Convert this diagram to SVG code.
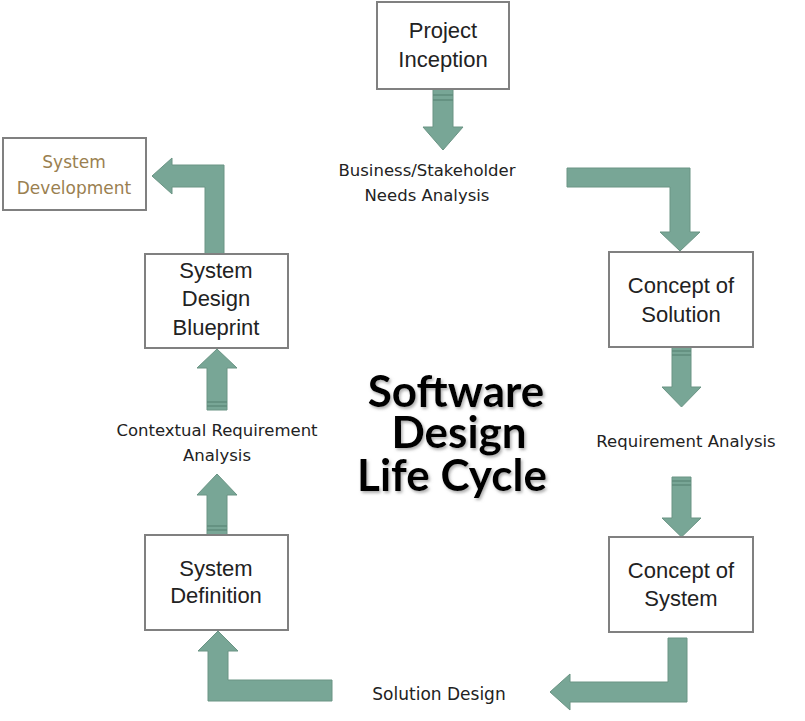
<svg xmlns="http://www.w3.org/2000/svg" width="805" height="721" viewBox="0 0 805 721">
<defs>
<style>
.box{fill:#fff;stroke:#808080;stroke-width:2}
.nt{font-family:"Liberation Sans",Arial,sans-serif;font-size:22px;fill:#222;text-anchor:middle}
.lb{font-family:"DejaVu Sans",sans-serif;font-size:16.5px;fill:#222;text-anchor:middle}
.arr{fill:#78a696;stroke:#6a9484;stroke-width:1}
.stripe{stroke:#5f8b7b;stroke-width:1.5}
.title{font-family:Lato,"Open Sans",sans-serif;font-weight:bold;font-size:44px;fill:#000;text-anchor:middle}
</style>
<filter id="sh" x="-10%" y="-10%" width="120%" height="130%">
<feDropShadow dx="1.5" dy="2" stdDeviation="1.5" flood-color="#777" flood-opacity="0.6"/>
</filter>
</defs>
<rect width="805" height="721" fill="#fff"/>

<g id="connectors">
<polygon class="arr" points="433,89 453,89 453,127 463,127 443,150 423,127 433,127"/>
<line class="stripe" x1="433" y1="95" x2="453" y2="95"/><line class="stripe" x1="433" y1="100" x2="453" y2="100"/>
<polygon class="arr" points="567,168 690,168 690,232 700,232 680,251 660,232 670,232 670,187 567,187"/>
<polygon class="arr" points="672,347 691,347 691,387 701,387 681.5,407 662,387 672,387"/>
<line class="stripe" x1="672" y1="351" x2="691" y2="351"/><line class="stripe" x1="672" y1="355" x2="691" y2="355"/>
<polygon class="arr" points="672,477 691,477 691,518 701,518 681.5,537 662,518 672,518"/>
<line class="stripe" x1="672" y1="481" x2="691" y2="481"/><line class="stripe" x1="672" y1="485" x2="691" y2="485"/>
<polygon class="arr" points="668,638 687,638 687,702 570,702 570,710 550,692 570,674 570,682 668,682"/>
<polygon class="arr" points="332,680 332,701 208,701 208,651 198,651 218,631 238,651 228,651 228,680"/>
<polygon class="arr" points="207,535 227,535 227,495 237,495 217,474 197,495 207,495"/>
<line class="stripe" x1="207" y1="526" x2="227" y2="526"/><line class="stripe" x1="207" y1="530" x2="227" y2="530"/>
<polygon class="arr" points="207,410 227,410 227,368 237,368 217,349 197,368 207,368"/>
<line class="stripe" x1="207" y1="402" x2="227" y2="402"/><line class="stripe" x1="207" y1="406" x2="227" y2="406"/>
<polygon class="arr" points="224,254 205,254 205,187 172,187 172,194 152,176 172,158 172,165 224,165"/>
</g>

<g id="project-inception">
<rect class="box" x="377" y="2" width="132" height="87"/>
<text class="nt" x="443" y="38">Project</text>
<text class="nt" x="443" y="67">Inception</text>
</g>

<g id="needs-analysis">
<text class="lb" x="427" y="176">Business/Stakeholder</text>
<text class="lb" x="427" y="201">Needs Analysis</text>
</g>

<g id="concept-solution">
<rect class="box" x="609" y="252" width="144" height="95"/>
<text class="nt" x="681" y="293">Concept of</text>
<text class="nt" x="681" y="322">Solution</text>
</g>

<g id="requirement-analysis">
<text class="lb" x="686" y="447">Requirement Analysis</text>
</g>

<g id="concept-system">
<rect class="box" x="609" y="537" width="144" height="95"/>
<text class="nt" x="681" y="578">Concept of</text>
<text class="nt" x="681" y="606">System</text>
</g>

<g id="solution-design">
<text class="lb" x="439" y="700" style="font-size:17px">Solution Design</text>
</g>

<g id="system-definition">
<rect class="box" x="145" y="535" width="143" height="95"/>
<text class="nt" x="216" y="576">System</text>
<text class="nt" x="216" y="603">Definition</text>
</g>

<g id="contextual-analysis">
<text class="lb" x="217" y="436">Contextual Requirement</text>
<text class="lb" x="217" y="461">Analysis</text>
</g>

<g id="system-design-blueprint">
<rect class="box" x="145" y="254" width="143" height="94"/>
<text class="nt" x="216" y="278">System</text>
<text class="nt" x="216" y="306">Design</text>
<text class="nt" x="216" y="335">Blueprint</text>
</g>

<g id="system-development">
<rect class="box" x="3" y="138" width="143" height="72"/>
<text class="lb" x="74" y="168" style="fill:#9a8050;font-size:17px">System</text>
<text class="lb" x="74" y="194" style="fill:#9a8050;font-size:17px">Development</text>
</g>

<g id="title" filter="url(#sh)">
<text class="title"><tspan x="456" y="407">Software</tspan><tspan x="459" y="448">Design</tspan><tspan x="452" y="491">Life Cycle</tspan></text>
</g>
</svg>
